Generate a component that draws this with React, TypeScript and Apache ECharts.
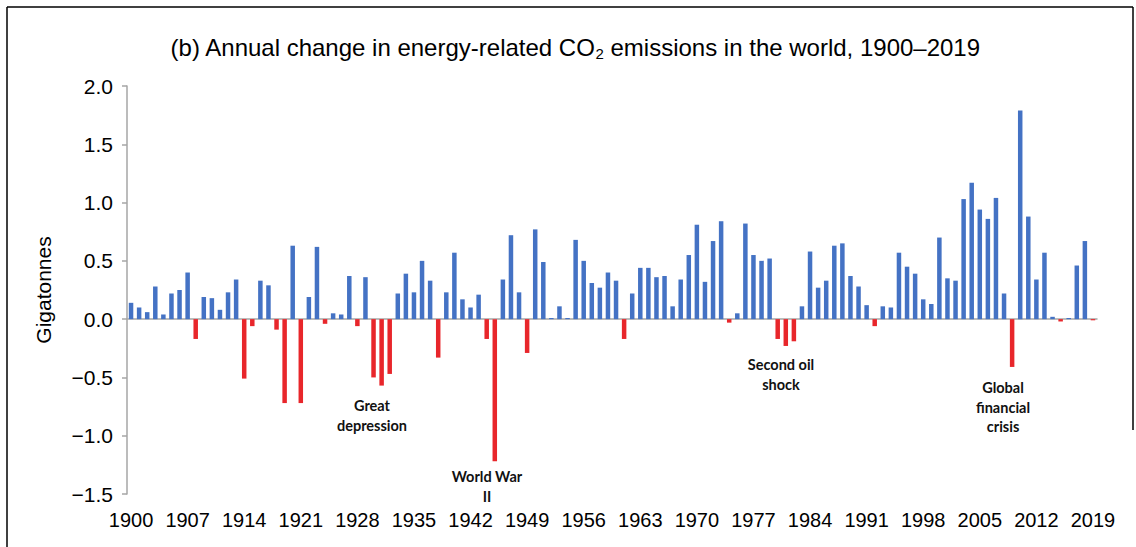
import React, { useEffect, useRef } from "react";
import * as echarts from "echarts";

const years: string[] = Array.from({ length: 120 }, (_, i) => String(1900 + i));

const changeGt: number[] = [
  0.14, 0.10, 0.06, 0.28, 0.04, 0.22, 0.25, 0.40, -0.17, 0.19,
  0.18, 0.08, 0.23, 0.34, -0.51, -0.06, 0.33, 0.29, -0.09, -0.72,
  0.63, -0.72, 0.19, 0.62, -0.04, 0.05, 0.04, 0.37, -0.06, 0.36,
  -0.50, -0.57, -0.47, 0.22, 0.39, 0.23, 0.50, 0.33, -0.33, 0.23,
  0.57, 0.17, 0.10, 0.21, -0.17, -1.22, 0.34, 0.72, 0.23, -0.29,
  0.77, 0.49, 0.01, 0.11, 0.01, 0.68, 0.50, 0.31, 0.27, 0.40,
  0.33, -0.17, 0.22, 0.44, 0.44, 0.36, 0.37, 0.11, 0.34, 0.55,
  0.81, 0.32, 0.67, 0.84, -0.03, 0.05, 0.82, 0.55, 0.50, 0.52,
  -0.17, -0.23, -0.19, 0.11, 0.58, 0.27, 0.33, 0.63, 0.65, 0.37,
  0.28, 0.12, -0.06, 0.11, 0.10, 0.57, 0.45, 0.39, 0.17, 0.13,
  0.70, 0.35, 0.33, 1.03, 1.17, 0.94, 0.86, 1.04, 0.22, -0.41,
  1.79, 0.88, 0.34, 0.57, 0.02, -0.02, 0.01, 0.46, 0.67, -0.01,
];

const annotations = [
  { text: "Great\ndepression", x: 372, y: 396 },
  { text: "World War\nII", x: 487, y: 467 },
  { text: "Second oil\nshock", x: 781, y: 355 },
  { text: "Global\nfinancial\ncrisis", x: 1003, y: 378 },
];

const BLUE = "#4472C4";
const RED = "#E8262B";
const AXIS = "#A6A6A6";
const FONT = "'Liberation Sans', Arial, sans-serif";

export default function App() {
  const ref = useRef<HTMLDivElement>(null);
  useEffect(() => {
    if (!ref.current) return;
    const chart = echarts.init(ref.current, null, { renderer: "svg" });
    chart.setOption({
      animation: false,
      backgroundColor: "#ffffff",
      title: {
        text: "(b) Annual change in energy-related CO{sub|2} emissions in the world, 1900–2019",
        left: 570,
        top: 29,
        textAlign: "center",
        textStyle: {
          fontFamily: FONT,
          fontSize: 24,
          fontWeight: "normal",
          color: "#000",
          rich: {
            sub: { fontFamily: FONT, fontSize: 15, verticalAlign: "bottom", padding: [12, 0, 0, 0], color: "#000" },
          },
        },
      },
      grid: { left: 127, right: 39, top: 86, bottom: 53, containLabel: false },
      xAxis: [
        {
          type: "category",
          data: years,
          position: "bottom",
          axisLine: { show: true, onZero: true, lineStyle: { color: AXIS, width: 1.5 } },
          axisTick: { show: false },
          axisLabel: { show: false },
          splitLine: { show: false },
        },
        {
          type: "category",
          data: years,
          position: "bottom",
          axisLine: { show: false, onZero: false },
          axisTick: { show: false },
          axisLabel: {
            show: true,
            interval: 6,
            margin: 16,
            fontFamily: FONT,
            fontSize: 20,
            color: "#000",
          },
          splitLine: { show: false },
        },
      ],
      yAxis: {
        type: "value",
        min: -1.5,
        max: 2.0,
        interval: 0.5,
        name: "Gigatonnes",
        nameLocation: "middle",
        nameGap: 73,
        nameRotate: 90,
        nameTextStyle: { fontFamily: FONT, fontSize: 21, color: "#000" },
        axisLine: { show: true, lineStyle: { color: AXIS, width: 1.5 } },
        axisTick: { show: true, inside: false, length: 5, lineStyle: { color: AXIS, width: 1.5 } },
        axisLabel: {
          fontFamily: FONT,
          fontSize: 21,
          color: "#000",
          margin: 14,
          formatter: (v: number) => v.toFixed(1).replace("-", "\u2212"),
        },
        splitLine: { show: false },
      },
      series: [
        {
          type: "bar",
          xAxisIndex: 0,
          barWidth: 4.5,
          data: changeGt.map((v) => ({ value: v, itemStyle: { color: v < 0 ? RED : BLUE } })),
        },
      ],
      graphic: [
        { type: "line", shape: { x1: 7, y1: 7, x2: 1133, y2: 7 }, style: { stroke: "#000", lineWidth: 1.5 } },
        { type: "line", shape: { x1: 7, y1: 7, x2: 7, y2: 547 }, style: { stroke: "#000", lineWidth: 1.5 } },
        { type: "line", shape: { x1: 1133, y1: 7, x2: 1133, y2: 430 }, style: { stroke: "#000", lineWidth: 1.5 } },
        ...annotations.map((a) => ({
          type: "text",
          x: a.x,
          y: a.y,
          style: {
            text: a.text,
            font: "bold 14.5px Lato, 'Open Sans', sans-serif",
            fill: "#111",
            textAlign: "center",
            textVerticalAlign: "top",
            lineHeight: 19.5,
          },
        })),
      ],
    });
    return () => chart.dispose();
  }, []);
  return <div ref={ref} style={{ width: 1136, height: 547, position: "fixed", left: 0, top: 0 }} />;
}
